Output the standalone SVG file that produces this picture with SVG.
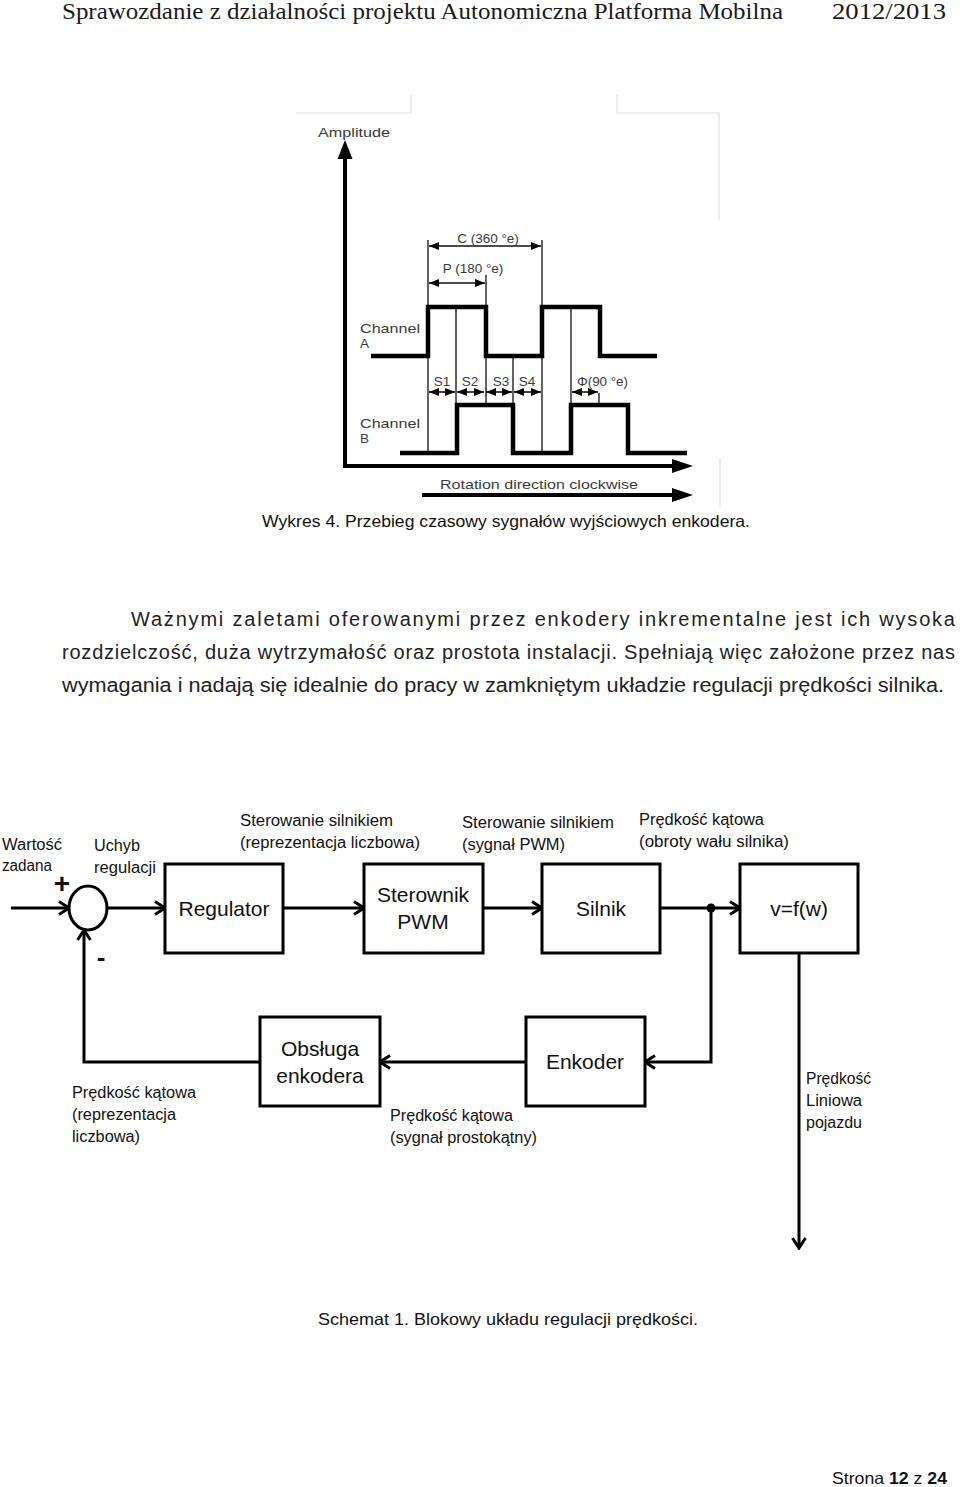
<svg xmlns="http://www.w3.org/2000/svg" width="960" height="1487" viewBox="0 0 960 1487">
<style>
.hdr{font-family:"Liberation Serif",serif;font-size:23px;fill:#1a1a1a}
.para{font-family:"Liberation Sans",sans-serif;font-size:20px;fill:#222}
.cap{font-family:"Liberation Sans",sans-serif;font-size:16.5px;fill:#111}
.ct{font-family:"Liberation Sans",sans-serif;font-size:13.5px;fill:#3a3a3a}
.lbl{font-family:"Liberation Sans",sans-serif;font-size:16px;fill:#111}
.box{fill:#fff;stroke:#000;stroke-width:3}
.bt{font-family:"Liberation Sans",sans-serif;font-size:21px;fill:#111;text-anchor:middle}
.wave{fill:none;stroke:#000;stroke-width:4.5;stroke-linejoin:miter}
.thin{fill:none;stroke:#111;stroke-width:1.3}
.dim{fill:none;stroke:#111;stroke-width:1.6;marker-start:url(#tri);marker-end:url(#tri)}
.faint{fill:none;stroke:#e2e2e2;stroke-width:1.2}
.conn{fill:none;stroke:#000;stroke-width:3}
.arr{marker-end:url(#chev)}
</style>
<defs>
<marker id="tri" markerUnits="userSpaceOnUse" viewBox="0 0 10 8" markerWidth="10" markerHeight="8" refX="10" refY="4" orient="auto-start-reverse"><path d="M0,0 L10,4 L0,8 Z" fill="#000"/></marker>
<marker id="chev" markerUnits="userSpaceOnUse" viewBox="0 0 14 16" markerWidth="14" markerHeight="16" refX="12" refY="8" orient="auto"><path d="M2,1.5 L12,8 L2,14.5" fill="none" stroke="#000" stroke-width="3"/></marker>
</defs>
<rect width="960" height="1487" fill="#fff"/>

<!-- header -->
<text class="hdr" x="62" y="19" textLength="721" lengthAdjust="spacingAndGlyphs">Sprawozdanie z działalności projektu Autonomiczna Platforma Mobilna</text>
<text class="hdr" x="832" y="19" textLength="114" lengthAdjust="spacingAndGlyphs">2012/2013</text>

<!-- encoder timing chart -->
<g id="chart">
<path class="faint" d="M296,113 H411 V95 M617,95 V113 H719 V220 M720,458 V508"/>
<text class="ct" x="318" y="137" textLength="72" lengthAdjust="spacingAndGlyphs">Amplitude</text>
<path d="M345,465 V157" stroke="#000" stroke-width="4" fill="none"/>
<polygon points="345,140 337.5,159 352.5,159" fill="#000"/>
<path d="M343,466 H675" stroke="#000" stroke-width="4" fill="none"/>
<polygon points="693,466 672,459 672,473" fill="#000"/>
<path d="M422,495 H675" stroke="#000" stroke-width="4" fill="none"/>
<polygon points="693,495 672,488 672,502" fill="#000"/>
<text class="ct" x="440" y="489" textLength="198" lengthAdjust="spacingAndGlyphs">Rotation direction clockwise</text>

<!-- reference lines -->
<path class="thin" d="M428,240 V453 M542,240 V453 M486,275 V403 M456,307 V403 M513,356 V403 M571,307 V403 M599,393 V403"/>

<!-- channel A -->
<text class="ct" x="360" y="333" textLength="60" lengthAdjust="spacingAndGlyphs">Channel</text>
<text class="ct" x="360" y="348">A</text>
<path class="wave" d="M371,356 H428 V307 H486 V356 H542 V307 H600 V356 H657"/>

<!-- channel B -->
<text class="ct" x="360" y="428" textLength="60" lengthAdjust="spacingAndGlyphs">Channel</text>
<text class="ct" x="360" y="443">B</text>
<path class="wave" d="M400,453 H457 V405 H513 V453 H571 V405 H628 V453 H687"/>

<!-- dimensions -->
<path class="dim" d="M429,246 H541"/>
<text class="ct" x="488" y="243" text-anchor="middle">C (360 °e)</text>
<path class="dim" d="M429,283 H485"/>
<text class="ct" x="473" y="273" text-anchor="middle">P (180 °e)</text>
<path class="dim" d="M429,392 H455"/>
<path class="dim" d="M457,392 H484"/>
<path class="dim" d="M486,392 H512"/>
<path class="dim" d="M514,392 H541"/>
<path class="dim" d="M572,392 H598"/>
<text class="ct" x="442" y="386" text-anchor="middle">S1</text>
<text class="ct" x="470" y="386" text-anchor="middle">S2</text>
<text class="ct" x="501" y="386" text-anchor="middle">S3</text>
<text class="ct" x="527" y="386" text-anchor="middle">S4</text>
<text class="ct" x="577" y="386" textLength="51" lengthAdjust="spacingAndGlyphs">Φ(90 °e)</text>
</g>

<text class="cap" x="262" y="527" textLength="488" lengthAdjust="spacingAndGlyphs">Wykres 4. Przebieg czasowy sygnałów wyjściowych enkodera.</text>

<!-- paragraph -->
<text class="para" x="131" y="626" textLength="824" lengthAdjust="spacing">Ważnymi zaletami oferowanymi przez enkodery inkrementalne jest ich wysoka</text>
<text class="para" x="62" y="659" textLength="893" lengthAdjust="spacing">rozdzielczość, duża wytrzymałość oraz prostota instalacji. Spełniają więc założone przez nas</text>
<text class="para" x="62" y="692" textLength="882" lengthAdjust="spacingAndGlyphs">wymagania i nadają się idealnie do pracy w zamkniętym układzie regulacji prędkości silnika.</text>

<!-- block diagram -->
<g id="connectors">
<path class="conn arr" d="M11,908 H69"/>
<path class="conn arr" d="M107,908 H165"/>
<path class="conn arr" d="M283,908 H364"/>
<path class="conn arr" d="M483,908 H542"/>
<path class="conn arr" d="M660,908 H740"/>
<path class="conn arr" d="M711,908 V1062 H645"/>
<path class="conn arr" d="M526,1062 H380"/>
<path class="conn arr" d="M260,1062 H84 V930"/>
<path class="conn arr" d="M799,953 V1248"/>
<circle cx="711" cy="908" r="4.5" fill="#000"/>
</g>

<g id="sum">
<ellipse cx="88" cy="908" rx="19" ry="22" fill="#fff" stroke="#000" stroke-width="3"/>
<text x="62" y="893" font-family="Liberation Sans,sans-serif" font-size="28" font-weight="bold" text-anchor="middle" fill="#111">+</text>
<text x="101" y="966" font-family="Liberation Sans,sans-serif" font-size="26" font-weight="bold" text-anchor="middle" fill="#111">-</text>
</g>

<g id="regulator">
<rect class="box" x="165" y="864" width="118" height="89"/>
<text class="bt" x="224" y="916">Regulator</text>
</g>
<g id="sterownik">
<rect class="box" x="364" y="864" width="119" height="89"/>
<text class="bt" x="423" y="902">Sterownik</text>
<text class="bt" x="423" y="929">PWM</text>
</g>
<g id="silnik">
<rect class="box" x="542" y="864" width="118" height="89"/>
<text class="bt" x="601" y="916">Silnik</text>
</g>
<g id="vfw">
<rect class="box" x="740" y="864" width="118" height="89"/>
<text class="bt" x="799" y="916">v=f(w)</text>
</g>
<g id="enkoder">
<rect class="box" x="526" y="1017" width="119" height="89"/>
<text class="bt" x="585" y="1069">Enkoder</text>
</g>
<g id="obsluga">
<rect class="box" x="260" y="1017" width="120" height="89"/>
<text class="bt" x="320" y="1056">Obsługa</text>
<text class="bt" x="320" y="1083">enkodera</text>
</g>

<g id="labels">
<text class="lbl" x="2" y="850" textLength="60" lengthAdjust="spacingAndGlyphs">Wartość</text>
<text class="lbl" x="2" y="871" textLength="50" lengthAdjust="spacingAndGlyphs">zadana</text>
<text class="lbl" x="94" y="851" textLength="46" lengthAdjust="spacingAndGlyphs">Uchyb</text>
<text class="lbl" x="94" y="873" textLength="62" lengthAdjust="spacingAndGlyphs">regulacji</text>
<text class="lbl" x="240" y="826" textLength="153" lengthAdjust="spacingAndGlyphs">Sterowanie silnikiem</text>
<text class="lbl" x="240" y="848" textLength="180" lengthAdjust="spacingAndGlyphs">(reprezentacja liczbowa)</text>
<text class="lbl" x="462" y="828" textLength="152" lengthAdjust="spacingAndGlyphs">Sterowanie silnikiem</text>
<text class="lbl" x="462" y="850" textLength="103" lengthAdjust="spacingAndGlyphs">(sygnał PWM)</text>
<text class="lbl" x="639" y="825" textLength="125" lengthAdjust="spacingAndGlyphs">Prędkość kątowa</text>
<text class="lbl" x="639" y="847" textLength="150" lengthAdjust="spacingAndGlyphs">(obroty wału silnika)</text>
<text class="lbl" x="72" y="1098" textLength="124" lengthAdjust="spacingAndGlyphs">Prędkość kątowa</text>
<text class="lbl" x="72" y="1120" textLength="104" lengthAdjust="spacingAndGlyphs">(reprezentacja</text>
<text class="lbl" x="72" y="1142" textLength="68" lengthAdjust="spacingAndGlyphs">liczbowa)</text>
<text class="lbl" x="390" y="1121" textLength="123" lengthAdjust="spacingAndGlyphs">Prędkość kątowa</text>
<text class="lbl" x="390" y="1143" textLength="147" lengthAdjust="spacingAndGlyphs">(sygnał prostokątny)</text>
<text class="lbl" x="806" y="1084" textLength="65" lengthAdjust="spacingAndGlyphs">Prędkość</text>
<text class="lbl" x="806" y="1106" textLength="56" lengthAdjust="spacingAndGlyphs">Liniowa</text>
<text class="lbl" x="806" y="1128" textLength="56" lengthAdjust="spacingAndGlyphs">pojazdu</text>
</g>

<text class="cap" x="318" y="1325" textLength="380" lengthAdjust="spacingAndGlyphs">Schemat 1. Blokowy układu regulacji prędkości.</text>

<text class="cap" x="832" y="1484" font-size="19" textLength="115" lengthAdjust="spacingAndGlyphs">Strona <tspan font-weight="bold">12</tspan> z <tspan font-weight="bold">24</tspan></text>
</svg>
